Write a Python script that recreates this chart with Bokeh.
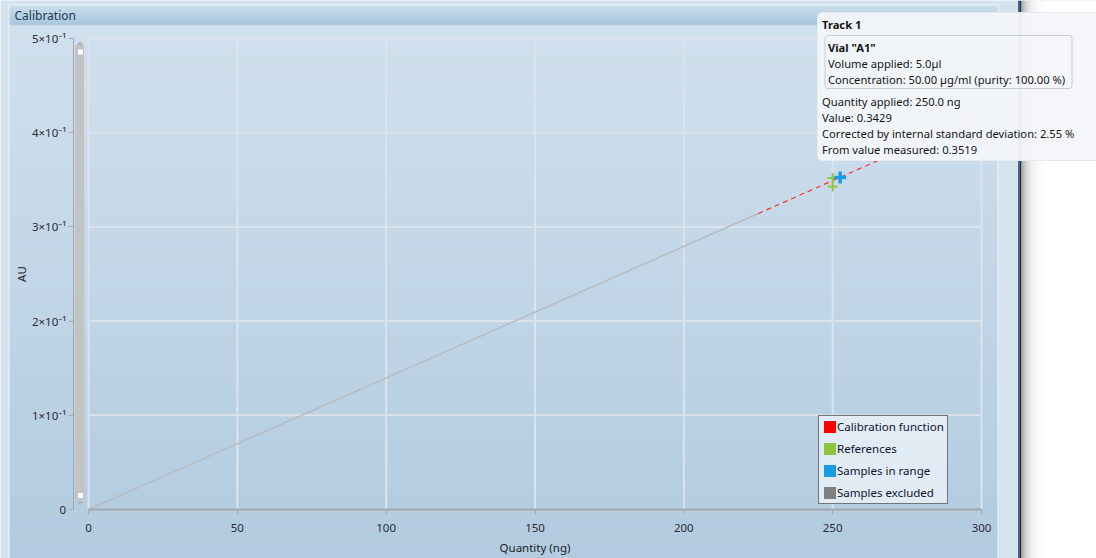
import math
from bokeh.plotting import figure
from bokeh.models import (Range1d, FixedTicker, BoxAnnotation, PolyAnnotation,
                          Label, Legend, LegendItem)
from bokeh.embed import file_html
from bokeh.resources import INLINE

# ---------------- data ----------------
x_ticks = [0, 50, 100, 150, 200, 250, 300]
y_ticks = [0, 0.1, 0.2, 0.3, 0.4, 0.5]
y_tick_labels = ["0", "1×10⁻¹", "2×10⁻¹", "3×10⁻¹", "4×10⁻¹", "5×10⁻¹"]

cal_in_x = [0, 225]            # calibration function inside the reference range
cal_in_y = [0.0, 0.3142]
cal_ext_x = [225, 300]         # extrapolated part (dashed red)
cal_ext_y = [0.3142, 0.4190]

ref_x = [250, 250]             # references
ref_y = [0.3519, 0.3429]
sample_x = [252.5]             # samples in range
sample_y = [0.3524]

legend_labels = ["Calibration function", "References", "Samples in range", "Samples excluded"]
legend_colors = ["#ff0000", "#8cc63f", "#1b9ce2", "#808080"]

panel_title = "Calibration"
x_label = "Quantity (ng)"
y_label = "AU"

tooltip_title = "Track 1"
tooltip_vial = 'Vial "A1"'
tooltip_vial_lines = ["Volume applied: 5.0µl",
                      "Concentration: 50.00 µg/ml (purity: 100.00 %)"]
tooltip_lines = ["Quantity applied: 250.0 ng",
                 "Value: 0.3429",
                 "Corrected by internal standard deviation: 2.55 %",
                 "From value measured: 0.3519"]

FONT = "Noto Sans"

# ---------------- canvas geometry ----------------
W, H = 1096, 558
PX0, PX300 = 88.0, 981.0      # pixel column of x=0 and x=300
PY0, PY05 = 509.0, 38.0       # pixel row of y=0 and y=0.5
kx = (PX300 - PX0) / 300.0
ky = (PY0 - PY05) / 0.5


def X(px):
    return (px - PX0) / kx


def Y(py):
    return (PY0 - py) / ky


p = figure(width=W, height=H, output_backend="svg", toolbar_location=None, tools="",
           x_range=Range1d(X(0), X(W)), y_range=Range1d(Y(H), Y(0)),
           min_border=0)
p.outline_line_color = None
p.background_fill_color = "#d5e3ef"
p.border_fill_color = "#d5e3ef"
p.grid.visible = False


def box(l, r, t, b, color, alpha=1.0, level="image", line=None, lw=1, radius=0):
    ba = BoxAnnotation(left=X(l), right=X(r), top=Y(t), bottom=Y(b),
                       fill_color=color, fill_alpha=alpha,
                       line_color=line, line_width=lw, line_alpha=1.0 if line else 0,
                       level=level, border_radius=radius)
    p.add_layout(ba)
    return ba


def hx(c):
    c = c.lstrip("#")
    return [int(c[i:i + 2], 16) for i in (0, 2, 4)]


def mix(c1, c2, t):
    a, b = hx(c1), hx(c2)
    return "#%02x%02x%02x" % tuple(int(round(a[i] + (b[i] - a[i]) * t)) for i in range(3))


def grad(l, r, t, b, c1, c2, n):
    for i in range(n):
        t0 = t + (b - t) * i / n
        b0 = t + (b - t) * (i + 1) / n + (0.8 if i < n - 1 else 0)
        box(l, r, t0, b0, mix(c1, c2, i / max(n - 1, 1)))


# ---------------- window chrome ----------------
box(8, 998, 4, H, "#eef4f9")                          # panel border
grad(9, 997, 5, 24, "#c9ddec", "#a9c7de", 10)          # header
box(9, 997, 24, 25, "#92b2cc")                         # header bottom line
grad(9, 997, 25, H, "#d0e0ed", "#b2cbe0", 40)          # panel body
box(1017.5, 1019, 0, H, "#3d5f9e")                     # dark window edge
box(1019, 1020.5, 0, H, "#262626")
box(1020.5, W, 0, H, "#ffffff")
for i in range(26):                                    # drop shadow
    g = int(round(255 - 95 * math.exp(-i / 6.0)))
    box(1020.5 + i, 1021.5 + i + 0.5, 0, H, "#%02x%02x%02x" % (g, g, g))

p.add_layout(Label(x=X(14), y=Y(14.8), text=panel_title, text_font=FONT,
                   text_font_size="12px", text_color="#24384f", text_baseline="middle"))

# scrollbar beside the y axis
box(74.5, 83.5, 44.5, 498.5, "#c3c3c3")
box(77.5, 82.5, 49, 54, "#ffffff")
box(77.5, 82.5, 492.5, 497.5, "#ffffff")
p.add_layout(PolyAnnotation(xs=[X(76), X(79.5), X(83)], ys=[Y(44.5), Y(41), Y(44.5)],
                            fill_color="#a9b3bd", fill_alpha=1, line_color=None, level="image"))
p.add_layout(PolyAnnotation(xs=[X(76), X(79.5), X(83)], ys=[Y(501), Y(504.5), Y(501)],
                            fill_color="#a9b3bd", fill_alpha=1, line_color=None, level="image"))

# ---------------- grid lines (from the tick lists) ----------------
GRID = "#dbe4ec"
p.segment(x0=x_ticks, y0=[y_ticks[0]] * len(x_ticks), x1=x_ticks, y1=[y_ticks[-1]] * len(x_ticks),
          line_color=GRID, line_width=2)
p.segment(x0=[x_ticks[0]] * len(y_ticks[1:]), y0=y_ticks[1:], x1=[x_ticks[-1]] * len(y_ticks[1:]),
          y1=y_ticks[1:], line_color=GRID, line_width=2)

# ---------------- axes ----------------
AX = "#a2a8ae"
xa = p.xaxis[0]
xa.fixed_location = 0
xa.bounds = (x_ticks[0], x_ticks[-1])
xa.ticker = FixedTicker(ticks=x_ticks)
xa.axis_line_color = AX
xa.axis_line_width = 2
xa.major_tick_line_color = AX
xa.major_tick_out = 5
xa.major_tick_in = 0
xa.minor_tick_line_color = None
xa.major_label_text_font = FONT
xa.major_label_text_font_size = "11.5px"
xa.major_label_text_color = "#2b2b36"
xa.major_label_standoff = 9
xa.axis_label = x_label
xa.axis_label_text_font = FONT
xa.axis_label_text_font_style = "normal"
xa.axis_label_text_font_size = "11.5px"
xa.axis_label_text_color = "#1c1c28"
xa.axis_label_standoff = 5

ya = p.yaxis[0]
ya.fixed_location = X(72.7)
ya.bounds = (y_ticks[0], y_ticks[-1])
ya.ticker = FixedTicker(ticks=y_ticks)
ya.major_label_overrides = {t: s for t, s in zip(y_ticks, y_tick_labels)}
ya.axis_line_color = AX
ya.axis_line_width = 1
ya.major_tick_line_color = AX
ya.major_tick_out = 5
ya.major_tick_in = 0
ya.minor_tick_line_color = None
ya.major_label_text_font = FONT
ya.major_label_text_font_size = "11.5px"
ya.major_label_text_color = "#2b2b36"
ya.major_label_standoff = 2
ya.axis_label = y_label
ya.axis_label_text_font = FONT
ya.axis_label_text_font_style = "normal"
ya.axis_label_text_font_size = "11.5px"
ya.axis_label_text_color = "#1c1c28"
ya.axis_label_standoff = 0

# ---------------- data marks ----------------
p.line(cal_in_x, cal_in_y, line_color="#b8bcc0", line_width=1.5)
p.line(cal_ext_x, cal_ext_y, line_color="#ff2a2a", line_width=1.2, line_dash="5 4")
p.scatter(ref_x, ref_y, marker="cross", size=10, line_color="#8cc63f", line_width=2)
p.scatter(sample_x, sample_y, marker="cross", size=12, line_color="#1b9ce2", line_width=3.5)

# ---------------- legend (square swatches) ----------------
nan = float("nan")
items = []
for lab, col in zip(legend_labels, legend_colors):
    r = p.quad(left=[nan], right=[nan], top=[nan], bottom=[nan], fill_color=col, line_color=None)
    items.append(LegendItem(label=lab, renderers=[r]))
legend = Legend(items=items, location=(818, 54), orientation="vertical",
                glyph_width=15, glyph_height=15, label_height=15, label_standoff=0,
                spacing=7, padding=3, margin=0,
                border_line_color="#70757a", border_line_width=1, border_line_alpha=1,
                background_fill_color="#e4eef5", background_fill_alpha=0.92,
                label_text_font=FONT, label_text_font_size="11.5px",
                label_text_color="#0e1330")
p.add_layout(legend)

# ---------------- tooltip ----------------
box(817, 1110, 12, 160, "#f3f6f9", alpha=0.95, level="overlay", line="#e6ebf0", radius=5)
box(824.5, 1071.5, 35, 88, "#f3f6f9", alpha=0.0, level="overlay", line="#c6ccd2", radius=3)

TIP_SIZE = "11.2px"


def tip(px, py, text, bold=False):
    p.add_layout(Label(x=X(px), y=Y(py), text=text, text_font=FONT, text_font_size=TIP_SIZE,
                       text_font_style="bold" if bold else "normal", text_color="#141414",
                       text_baseline="middle", level="overlay"))


tip(821.5, 24.3, tooltip_title, bold=True)
tip(827.5, 46.7, tooltip_vial, bold=True)
for i, s in enumerate(tooltip_vial_lines):
    tip(827.5, 62.7 + 16.3 * i, s)
for i, s in enumerate(tooltip_lines):
    tip(821.5, 100.7 + 16.0 * i, s)

open("out.html", "w").write(file_html(p, INLINE))
